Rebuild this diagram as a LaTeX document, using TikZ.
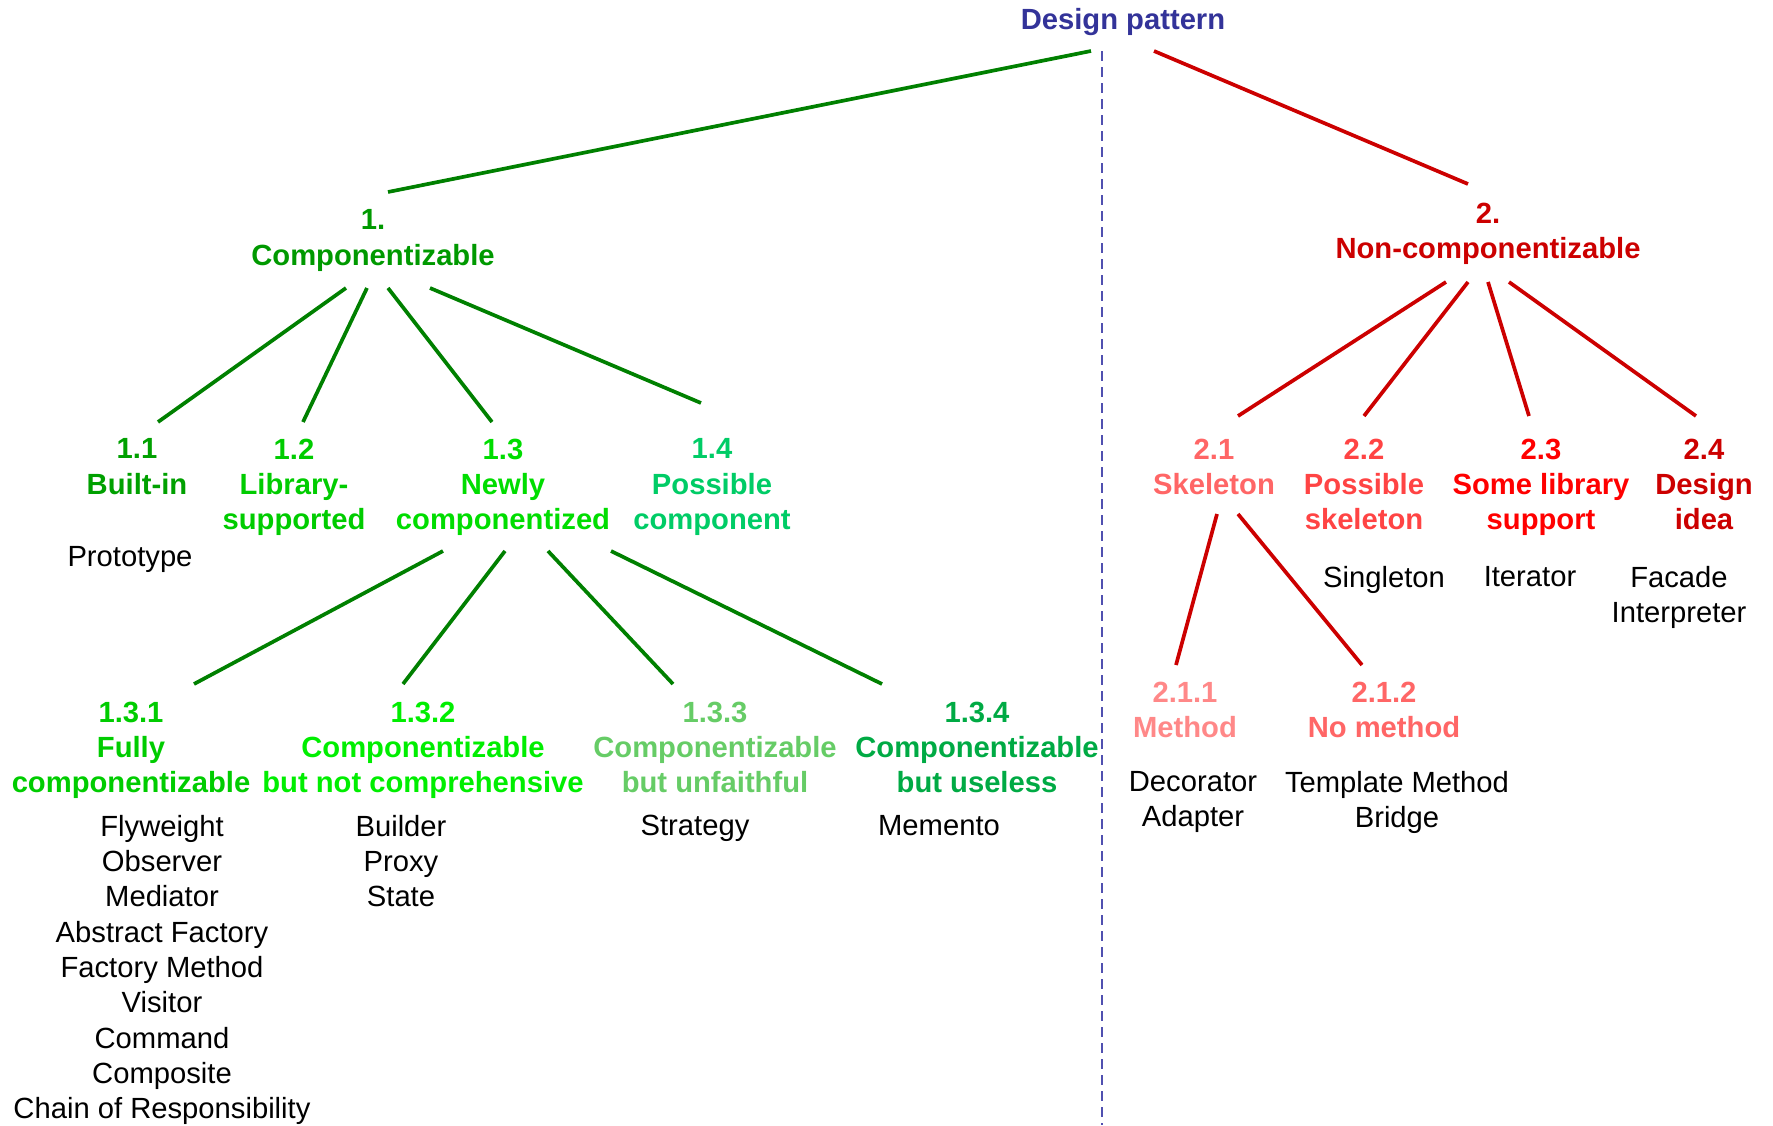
\documentclass[tikz,border=0pt]{standalone}
\usepackage{fontspec}
\setmainfont{Liberation Sans}
\definecolor{dpblue}{HTML}{333399}
\definecolor{dashblue}{HTML}{5050B0}
\definecolor{lgreen}{HTML}{008000}
\definecolor{lred}{HTML}{CC0000}
\definecolor{cA}{HTML}{009900}
\definecolor{c11}{HTML}{00A000}
\definecolor{c12}{HTML}{00CC00}
\definecolor{c13}{HTML}{00DD00}
\definecolor{c14}{HTML}{00CC66}
\definecolor{c131}{HTML}{00CC00}
\definecolor{c132}{HTML}{00EE00}
\definecolor{c133}{HTML}{66CC66}
\definecolor{c134}{HTML}{00AA44}
\definecolor{c21}{HTML}{FF6666}
\definecolor{c22}{HTML}{FF4444}
\definecolor{c23}{HTML}{FF0000}
\definecolor{c24}{HTML}{CC0000}
\definecolor{c211}{HTML}{FF8888}
\definecolor{c212}{HTML}{FF6666}
\begin{document}
\begin{tikzpicture}[x=1pt,y=-1pt,
  lbl/.style={font=\bfseries\fontsize{29.2}{35.4}\selectfont, align=center, anchor=north, inner sep=0pt, yshift=-0.5pt},
  lst/.style={font=\fontsize{29.2}{35.3}\selectfont, align=center, anchor=north, inner sep=0pt, text=black, yshift=0pt},
  gline/.style={line width=3.7pt, draw=lgreen},
  rline/.style={line width=3.7pt, draw=lred}]
\useasboundingbox (0,0) rectangle (1773,1125);
% separator
\draw[dashblue, line width=2.4pt, dash pattern=on 10pt off 6pt] (1102,51) -- (1102,1125);
% nodes
\node[lbl, text=dpblue] (dp) at (1123,8) {Design pattern};
\node[lbl, text=cA] (n1) at (373,209) {1.\\Componentizable};
\node[lbl, text=lred] (n2) at (1488,202) {2.\\Non-componentizable};
\node[lbl, text=c11] (n11) at (137,438) {1.1\\Built-in};
\node[lbl, text=c12] (n12) at (294,438) {1.2\\Library-\\supported};
\node[lbl, text=c13] (n13) at (503,438) {1.3\\Newly\\componentized};
\node[lbl, text=c14] (n14) at (712,438) {1.4\\Possible\\component};
\node[lst] (l11) at (130,546) {Prototype};
\node[lbl, text=c131] (n131) at (131,701) {1.3.1\\Fully\\componentizable};
\node[lbl, text=c132] (n132) at (423,701) {1.3.2\\Componentizable\\but not comprehensive};
\node[lbl, text=c133] (n133) at (715,701) {1.3.3\\Componentizable\\but unfaithful};
\node[lbl, text=c134] (n134) at (977,701) {1.3.4\\Componentizable\\but useless};
\node[lst] (l131) at (162,815) {Flyweight\\Observer\\Mediator\\Abstract Factory\\Factory Method\\Visitor\\Command\\Composite\\Chain of Responsibility};
\node[lst] (l132) at (401,815) {Builder\\Proxy\\State};
\node[lst] (l133) at (695,815) {Strategy};
\node[lst] (l134) at (939,815) {Memento};
\node[lbl, text=c21] (n21) at (1214,438) {2.1\\Skeleton};
\node[lbl, text=c22] (n22) at (1364,438) {2.2\\Possible\\skeleton};
\node[lbl, text=c23] (n23) at (1541,438) {2.3\\Some library\\support};
\node[lbl, text=c24] (n24) at (1704,438) {2.4\\Design\\idea};
\node[lst] (l22) at (1384,566) {Singleton};
\node[lst] (l23) at (1530,566) {Iterator};
\node[lst] (l24) at (1679,566) {Facade\\Interpreter};
\node[lbl, text=c211] (n211) at (1185,681) {2.1.1\\Method};
\node[lbl, text=c212] (n212) at (1384,681) {2.1.2\\No method};
\node[lst] (l211) at (1193,771) {Decorator\\Adapter};
\node[lst] (l212) at (1397,771) {Template Method\\Bridge};
% connector end points
\coordinate (dpL) at (1091,51);
\coordinate (dpR) at (1154,51);
\coordinate (n1T) at (388,192);
\coordinate (n2T) at (1468,184);
\coordinate (n1a) at (346,288);
\coordinate (n1b) at (367,288);
\coordinate (n1c) at (388,288);
\coordinate (n1d) at (430,288);
\coordinate (n11T) at (158,422);
\coordinate (n12T) at (303,422);
\coordinate (n13T) at (492,422);
\coordinate (n14T) at (701,403);
\coordinate (n13a) at (443,551);
\coordinate (n13b) at (505,551);
\coordinate (n13c) at (548,551);
\coordinate (n13d) at (611,551);
\coordinate (n131T) at (194,684);
\coordinate (n132T) at (403,684);
\coordinate (n133T) at (673,684);
\coordinate (n134T) at (882,684);
\coordinate (n2a) at (1446,282);
\coordinate (n2b) at (1468,282);
\coordinate (n2c) at (1488,282);
\coordinate (n2d) at (1509,282);
\coordinate (n21T) at (1238,416);
\coordinate (n22T) at (1364,416);
\coordinate (n23T) at (1529,416);
\coordinate (n24T) at (1696,416);
\coordinate (n21a) at (1217,514);
\coordinate (n21b) at (1238,514);
\coordinate (n211T) at (1176,665);
\coordinate (n212T) at (1362,665);
% connectors
\draw[gline] (dpL) -- (n1T);
\draw[rline] (dpR) -- (n2T);
\draw[gline] (n1a) -- (n11T);
\draw[gline] (n1b) -- (n12T);
\draw[gline] (n1c) -- (n13T);
\draw[gline] (n1d) -- (n14T);
\draw[gline] (n13a) -- (n131T);
\draw[gline] (n13b) -- (n132T);
\draw[gline] (n13c) -- (n133T);
\draw[gline] (n13d) -- (n134T);
\draw[rline] (n2a) -- (n21T);
\draw[rline] (n2b) -- (n22T);
\draw[rline] (n2c) -- (n23T);
\draw[rline] (n2d) -- (n24T);
\draw[rline] (n21a) -- (n211T);
\draw[rline] (n21b) -- (n212T);
\end{tikzpicture}
\end{document}
